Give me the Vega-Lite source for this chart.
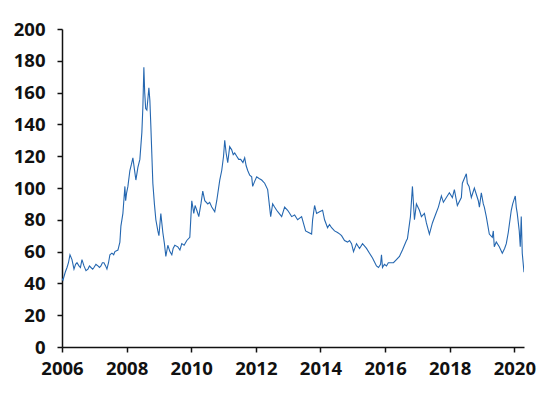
{
  "$schema": "https://vega.github.io/schema/vega-lite/v6.json",
  "autosize": {"type": "none"},
  "padding": {"left": 62, "top": 29, "right": 36, "bottom": 46},
  "width": 462,
  "height": 318,
  "background": "white",
  "data": {"values": [
    {"t":2006.00,"v":43},{"t":2006.03,"v":42},{"t":2006.10,"v":47},{"t":2006.155,"v":50},{"t":2006.20,"v":53},{"t":2006.247,"v":58},{"t":2006.309,"v":55},{"t":2006.371,"v":49},{"t":2006.42,"v":52},{"t":2006.464,"v":53},{"t":2006.525,"v":51},{"t":2006.57,"v":50},{"t":2006.618,"v":55},{"t":2006.68,"v":51},{"t":2006.742,"v":48},{"t":2006.803,"v":49},{"t":2006.85,"v":51},{"t":2006.896,"v":50},{"t":2006.95,"v":49},{"t":2006.989,"v":50},
    {"t":2007.05,"v":52},{"t":2007.112,"v":51},{"t":2007.16,"v":50},{"t":2007.205,"v":51},{"t":2007.25,"v":53},{"t":2007.298,"v":53},{"t":2007.35,"v":51},{"t":2007.391,"v":49},{"t":2007.44,"v":53},{"t":2007.483,"v":58},{"t":2007.545,"v":59},{"t":2007.60,"v":58},{"t":2007.638,"v":60},{"t":2007.731,"v":61},{"t":2007.792,"v":66},{"t":2007.823,"v":76},{"t":2007.854,"v":80},{"t":2007.885,"v":84},{"t":2007.947,"v":101},{"t":2007.97,"v":92},
    {"t":2008.00,"v":97},{"t":2008.040,"v":101},{"t":2008.101,"v":111},{"t":2008.15,"v":115},{"t":2008.194,"v":119},{"t":2008.24,"v":112},{"t":2008.287,"v":105},{"t":2008.349,"v":113},{"t":2008.41,"v":118},{"t":2008.472,"v":135},{"t":2008.503,"v":151},{"t":2008.534,"v":176},{"t":2008.56,"v":160},{"t":2008.59,"v":150},{"t":2008.627,"v":149},{"t":2008.689,"v":163},{"t":2008.72,"v":155},{"t":2008.750,"v":139},{"t":2008.812,"v":103},{"t":2008.86,"v":90},{"t":2008.905,"v":80},{"t":2008.967,"v":73},
    {"t":2009.00,"v":70},{"t":2009.059,"v":84},{"t":2009.121,"v":72},{"t":2009.17,"v":65},{"t":2009.214,"v":57},{"t":2009.276,"v":64},{"t":2009.34,"v":60},{"t":2009.399,"v":58},{"t":2009.44,"v":62},{"t":2009.492,"v":64},{"t":2009.585,"v":63},{"t":2009.65,"v":61},{"t":2009.708,"v":65},{"t":2009.78,"v":64},{"t":2009.863,"v":67},{"t":2009.956,"v":69},
    {"t":2010.017,"v":92},{"t":2010.079,"v":84},{"t":2010.12,"v":89},{"t":2010.172,"v":86},{"t":2010.234,"v":82},{"t":2010.30,"v":90},{"t":2010.357,"v":98},{"t":2010.419,"v":92},{"t":2010.512,"v":90},{"t":2010.57,"v":91},{"t":2010.635,"v":88},{"t":2010.728,"v":85},{"t":2010.790,"v":92},{"t":2010.883,"v":105},{"t":2010.944,"v":111},
    {"t":2011.00,"v":120},{"t":2011.037,"v":130},{"t":2011.08,"v":122},{"t":2011.130,"v":116},{"t":2011.19,"v":126},{"t":2011.253,"v":124},{"t":2011.30,"v":121},{"t":2011.346,"v":122},{"t":2011.408,"v":120},{"t":2011.470,"v":118},{"t":2011.531,"v":118},{"t":2011.60,"v":116},{"t":2011.655,"v":119},{"t":2011.70,"v":114},{"t":2011.748,"v":111},{"t":2011.81,"v":108},{"t":2011.871,"v":107},{"t":2011.902,"v":101},{"t":2011.96,"v":104},
    {"t":2012.026,"v":107},{"t":2012.10,"v":106},{"t":2012.180,"v":105},{"t":2012.273,"v":103},{"t":2012.366,"v":99},{"t":2012.459,"v":82},{"t":2012.520,"v":90},{"t":2012.58,"v":88},{"t":2012.644,"v":86},{"t":2012.72,"v":84},{"t":2012.799,"v":82},{"t":2012.891,"v":88},{"t":2012.984,"v":86},
    {"t":2013.05,"v":84},{"t":2013.108,"v":82},{"t":2013.200,"v":83},{"t":2013.293,"v":80},{"t":2013.417,"v":82},{"t":2013.540,"v":73},{"t":2013.633,"v":72},{"t":2013.726,"v":71},{"t":2013.757,"v":80},{"t":2013.818,"v":89},{"t":2013.880,"v":84},{"t":2013.973,"v":85},
    {"t":2014.066,"v":86},{"t":2014.127,"v":80},{"t":2014.220,"v":75},{"t":2014.28,"v":77},{"t":2014.344,"v":75},{"t":2014.436,"v":73},{"t":2014.529,"v":72},{"t":2014.60,"v":71},{"t":2014.653,"v":70},{"t":2014.745,"v":67},{"t":2014.838,"v":66},{"t":2014.90,"v":67},{"t":2014.962,"v":65},
    {"t":2015.023,"v":60},{"t":2015.116,"v":65},{"t":2015.209,"v":62},{"t":2015.302,"v":65},{"t":2015.425,"v":62},{"t":2015.518,"v":59},{"t":2015.611,"v":56},{"t":2015.734,"v":51},{"t":2015.796,"v":50},{"t":2015.86,"v":52},{"t":2015.889,"v":58},{"t":2015.920,"v":50},{"t":2015.98,"v":52},
    {"t":2016.043,"v":51},{"t":2016.10,"v":53},{"t":2016.167,"v":53},{"t":2016.260,"v":53},{"t":2016.352,"v":55},{"t":2016.445,"v":57},{"t":2016.538,"v":61},{"t":2016.661,"v":67},{"t":2016.692,"v":68},{"t":2016.785,"v":82},{"t":2016.847,"v":101},{"t":2016.909,"v":80},{"t":2016.970,"v":90},
    {"t":2017.063,"v":86},{"t":2017.125,"v":82},{"t":2017.218,"v":84},{"t":2017.279,"v":78},{"t":2017.372,"v":71},{"t":2017.465,"v":78},{"t":2017.557,"v":83},{"t":2017.650,"v":88},{"t":2017.743,"v":95},{"t":2017.805,"v":91},{"t":2017.897,"v":94},{"t":2017.990,"v":97},
    {"t":2018.083,"v":94},{"t":2018.145,"v":99},{"t":2018.237,"v":89},{"t":2018.361,"v":94},{"t":2018.392,"v":103},{"t":2018.515,"v":109},{"t":2018.546,"v":103},{"t":2018.60,"v":101},{"t":2018.670,"v":94},{"t":2018.763,"v":100},{"t":2018.886,"v":92},{"t":2018.92,"v":88},{"t":2018.979,"v":97},
    {"t":2019.04,"v":90},{"t":2019.072,"v":88},{"t":2019.133,"v":82},{"t":2019.226,"v":71},{"t":2019.319,"v":69},{"t":2019.35,"v":73},{"t":2019.380,"v":63},{"t":2019.442,"v":66},{"t":2019.535,"v":63},{"t":2019.628,"v":59},{"t":2019.70,"v":62},{"t":2019.752,"v":65},{"t":2019.813,"v":72},{"t":2019.906,"v":86},{"t":2019.95,"v":90},
    {"t":2020.030,"v":95},{"t":2020.06,"v":88},{"t":2020.091,"v":84},{"t":2020.153,"v":73},{"t":2020.184,"v":63},{"t":2020.215,"v":82},{"t":2020.246,"v":59},{"t":2020.30,"v":47}
  ]},
  "mark": {"type": "line", "color": "#2567b0", "strokeWidth": 1.1, "clip": true},
  "encoding": {
    "x": {"field": "t", "type": "quantitative", "title": null,
      "scale": {"domain": [2006, 2020.3], "nice": false, "zero": false},
      "axis": {"values": [2006, 2008, 2010, 2012, 2014, 2016, 2018, 2020], "format": "d", "grid": false, "labelPadding": 7, "labelFlush": false}},
    "y": {"field": "v", "type": "quantitative", "title": null,
      "scale": {"domain": [0, 200], "nice": false},
      "axis": {"values": [0, 20, 40, 60, 80, 100, 120, 140, 160, 180, 200], "grid": false, "labelPadding": 12}}
  },
  "config": {
    "view": {"stroke": null},
    "axis": {"domainColor": "#111", "domainWidth": 1.5, "tickColor": "#111", "tickWidth": 1.5, "tickSize": 5, "labelFont": "Open Sans", "labelFontSize": 18.5, "labelFontWeight": "bold", "labelColor": "#111"}
  }
}
